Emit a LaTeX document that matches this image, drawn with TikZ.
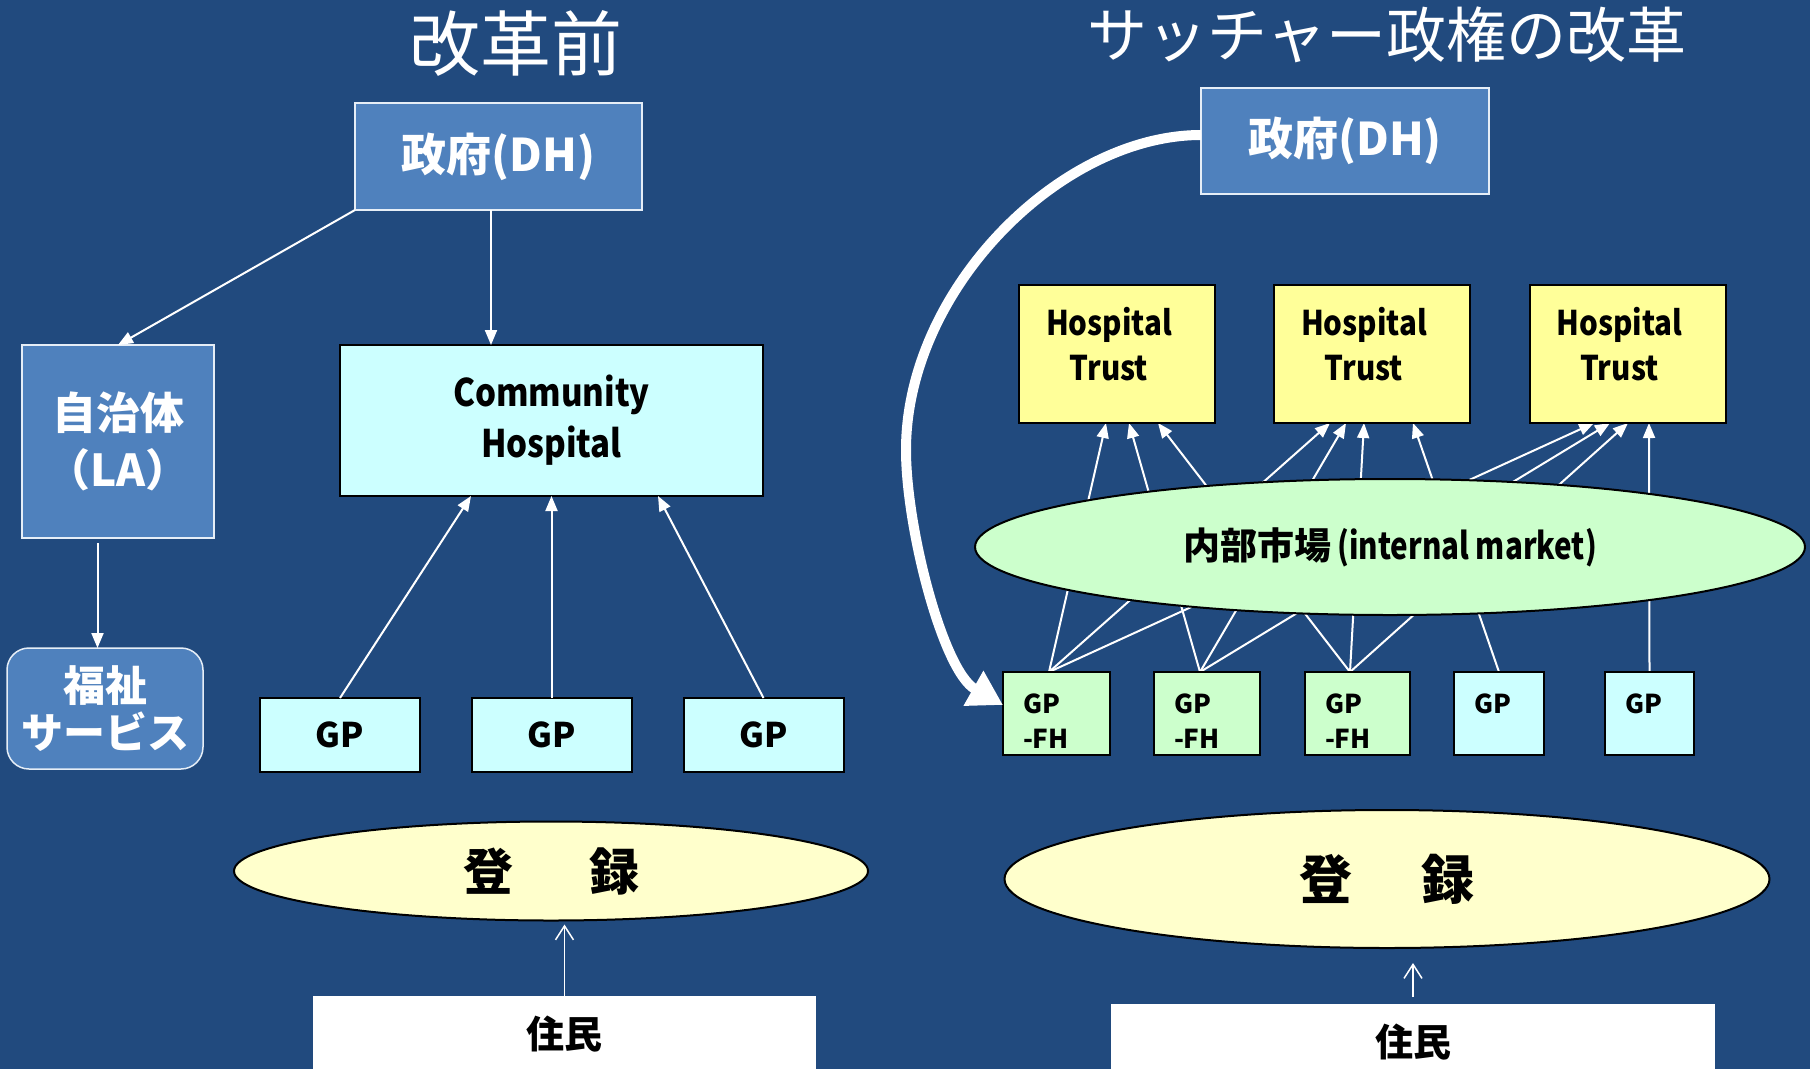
\documentclass[tikz,border=0pt]{standalone}
\usepackage{fontspec}
\setmainfont{Noto Sans CJK JP}
\newfontfamily\latf[FakeStretch=0.87]{Noto Sans CJK JP}
\newfontfamily\latn[FakeStretch=0.8]{Noto Sans CJK JP}
\usetikzlibrary{arrows.meta,calc,shapes.geometric}
\definecolor{bgblue}{HTML}{214A7E}
\definecolor{boxblue}{HTML}{4F81BD}
\definecolor{cyanbox}{HTML}{CCFFFF}
\definecolor{trustyel}{HTML}{FFFF99}
\definecolor{mktgreen}{HTML}{CCFFCC}
\definecolor{regyel}{HTML}{FFFFCC}
\definecolor{paleedge}{HTML}{E6EEF7}
\newcommand\fsz[2]{\fontsize{#1pt}{#2pt}\selectfont}
\pgfdeclarelayer{back}
\pgfdeclarelayer{wires}
\pgfsetlayers{back,wires,main}
\tikzset{
 blk/.style={rectangle, inner sep=0pt, outer sep=0pt},
 bluebox/.style={blk, fill=boxblue, draw=paleedge, line width=1.5pt, text=white, align=center},
 litebox/.style={blk, draw=black, line width=2pt, align=center},
 oval/.style={ellipse, inner sep=0pt, outer sep=0pt, draw=black, line width=2pt},
 conn/.style={draw=white, line width=2pt, -{Triangle[length=15pt,width=12pt]}},
 regarrow/.style={draw=white, line width=1.5pt, -{Straight Barb[length=14pt,width=18pt]}},
 resbox/.style={blk, fill=white, minimum height=76pt},
 boxtxt/.style={inner sep=0pt, outer sep=0pt},
}
\begin{document}
\begin{tikzpicture}[x=1pt,y=-1pt]
\useasboundingbox (0,0) rectangle (1810,1069);
\begin{pgfonlayer}{back}
\fill[bgblue] (0,0) rectangle (1810,1069);
\end{pgfonlayer}

% ---------- left: before reform ----------
\node[text=white, font=\fsz{71}{80}] (titleL) at (516,43) {改革前};
\node[bluebox, minimum width=287pt, minimum height=107pt, font=\fsz{45}{50}\bfseries] (govL) at (498.5,156.5) {政府(DH)};
\node[bluebox, minimum width=192pt, minimum height=193pt, font=\fsz{44}{57}\bfseries] (la) at (118,441.5) {自治体\\（LA）};
\node[bluebox, rounded corners=22pt, minimum width=196pt, minimum height=121pt, font=\fsz{42}{47}\bfseries] (welf) at (105,708.5) {福祉\\サービス};
\node[litebox, fill=cyanbox, minimum width=423pt, minimum height=151pt, font=\latf\fsz{38}{51}\bfseries] (ch) at (551.5,420.5) {Community\\Hospital};
\node[litebox, fill=cyanbox, minimum width=160pt, minimum height=74pt, font=\fsz{34}{40}\bfseries] (gpL1) at (340,735) {GP};
\node[litebox, fill=cyanbox, minimum width=160pt, minimum height=74pt, font=\fsz{34}{40}\bfseries] (gpL2) at (551.5,735) {GP};
\node[litebox, fill=cyanbox, minimum width=160pt, minimum height=74pt, font=\fsz{34}{40}\bfseries] (gpL3) at (763.5,735) {GP};
\node[oval, fill=regyel, minimum width=634pt, minimum height=99pt, font=\fsz{50}{56}\bfseries] (regL) at (551,871) {登\hspace{76pt}録};
\node[resbox, minimum width=503pt, font=\fsz{38}{44}\bfseries] (resL) at (564.5,1034) {住民};

\draw[conn] (govL.south west) -- (la.north);
\draw[conn] ([xshift=-7.5pt]govL.south) -- ([xshift=-7.5pt]govL.south |- ch.north);
\draw[conn] ([xshift=-20.5pt,yshift=-5pt]la.south) -- ([xshift=-20.5pt]la.south |- welf.north);
\draw[conn] (gpL1.north) -- ([xshift=-80.5pt]ch.south);
\draw[conn] (gpL2.north) -- (ch.south);
\draw[conn] (gpL3.north) -- ([xshift=106.5pt]ch.south);
\draw[regarrow, shorten >=4pt] (resL.north) -- (resL.north |- regL.south);

% ---------- right: Thatcher reform ----------
\node[text=white, font=\fsz{60}{68}] (titleR) at (1387,35) {サッチャー政権の改革};
\node[bluebox, minimum width=288pt, minimum height=106pt, font=\fsz{45}{50}\bfseries] (govR) at (1345,141) {政府(DH)};

\node[litebox, fill=trustyel, minimum width=196pt, minimum height=138pt] (ht1) at (1117,354) {};
\node[litebox, fill=trustyel, minimum width=196pt, minimum height=138pt] (ht2) at (1372,354) {};
\node[litebox, fill=trustyel, minimum width=196pt, minimum height=138pt] (ht3) at (1627.5,354) {};
\node[boxtxt, font=\latf\fsz{34}{45.5}\bfseries, align=center] (ht1t) at (1109,344) {Hospital\\Trust};
\node[boxtxt, font=\latf\fsz{34}{45.5}\bfseries, align=center] (ht2t) at (1364,344) {Hospital\\Trust};
\node[boxtxt, font=\latf\fsz{34}{45.5}\bfseries, align=center] (ht3t) at (1619.5,344) {Hospital\\Trust};

\node[oval, fill=mktgreen, minimum width=830pt, minimum height=136pt, font=\fsz{37}{42}\bfseries] (im) at (1390,547) {内部市場\,{\latn(internal market)}};

\node[litebox, fill=mktgreen, minimum width=107pt, minimum height=83pt] (gpfh1) at (1056.5,713.5) {};
\node[litebox, fill=mktgreen, minimum width=106pt, minimum height=83pt] (gpfh2) at (1207,713.5) {};
\node[litebox, fill=mktgreen, minimum width=105pt, minimum height=83pt] (gpfh3) at (1357.5,713.5) {};
\node[litebox, fill=cyanbox, minimum width=90pt, minimum height=83pt] (gp4) at (1499,713.5) {};
\node[litebox, fill=cyanbox, minimum width=89pt, minimum height=83pt] (gp5) at (1649.5,713.5) {};
\foreach \b in {gpfh1,gpfh2,gpfh3}
  \node[boxtxt, font=\fsz{26}{35}\bfseries, align=left, anchor=north west] (\b t) at ($(\b.north west)+(20,22)$) {GP\\-FH};
\foreach \b in {gp4,gp5}
  \node[boxtxt, font=\fsz{26}{35}\bfseries, anchor=north west] (\b t) at ($(\b.north west)+(20,22)$) {GP};

\begin{pgfonlayer}{wires}
\foreach \s/\sx/\t/\tx in {gpfh1/-7.5/ht1/-11, gpfh1/-7.5/ht2/-42, gpfh1/-7.5/ht3/-33.5,
  gpfh2/-7/ht1/12, gpfh2/-7/ht2/-26, gpfh2/-7/ht3/-17.5,
  gpfh3/-7.5/ht1/41, gpfh3/-7.5/ht2/-8, gpfh3/-7.5/ht3/0.5,
  gp4/0/ht2/41, gp5/0/ht3/21.5}
  \draw[conn] ([xshift=\sx pt]\s.north) -- ([xshift=\tx pt]\t.south);
\end{pgfonlayer}

\draw[white, line width=10pt, -{Triangle[length=34pt,width=38pt]}]
  ([yshift=6pt]govR.west) .. controls (1060,135) and (906,290) .. (906,450)
  .. controls (906,528) and (943,671) .. ([yshift=8.5pt]gpfh1.west);

\node[oval, fill=regyel, minimum width=765pt, minimum height=138pt, font=\fsz{53}{58}\bfseries] (regR) at (1387,879) {登\hspace{70pt}録};
\node[resbox, minimum width=604pt, font=\fsz{38}{44}\bfseries] (resR) at (1413,1042) {住民};
\draw[regarrow, shorten >=15pt] ([yshift=7pt]resR.north) -- (resR.north |- regR.south);
\end{tikzpicture}
\end{document}
